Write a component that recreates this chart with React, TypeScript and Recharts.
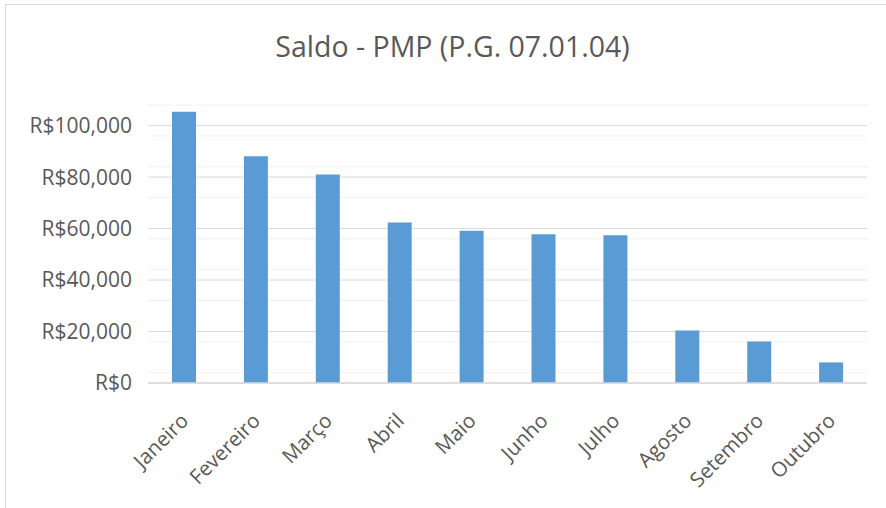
import { BarChart, Bar, XAxis, YAxis, CartesianGrid } from "recharts";

const months = ["Janeiro", "Fevereiro", "Março", "Abril", "Maio", "Junho", "Julho", "Agosto", "Setembro", "Outubro"];
const saldo = [105400, 88100, 81000, 62400, 59150, 57750, 57360, 20400, 16100, 8000];
const yTicks = [0, 20000, 40000, 60000, 80000, 100000];
const minorLines = [4000, 8000, 12000, 16000, 24000, 28000, 32000, 36000, 44000, 48000, 52000, 56000, 64000, 68000, 72000, 76000, 84000, 88000, 92000, 96000, 104000, 108000];

const data = months.map((m, i) => ({ month: m, saldo: saldo[i] }));

const FONT = "'Open Sans', sans-serif";
const TEXT = "#595959";

const fmt = (v: number) => "R$" + v.toLocaleString("en-US");

const MonthTick = (props: any) => {
  const { x, y, payload } = props;
  return (
    <g transform={`translate(${x},${y})`}>
      <text
        x={0}
        y={0}
        dy={26}
        dx={-18}
        textAnchor="end"
        transform="rotate(-45)"
        fill={TEXT}
        fontSize={20.5}
        fontFamily={FONT}
      >
        {payload.value}
      </text>
    </g>
  );
};

export default function App() {
  return (
    <div style={{ position: "absolute", left: 0, top: 0, width: 886, height: 508, background: "#fff", overflow: "hidden" }}>
      <div style={{ position: "absolute", left: 5, top: 4, width: 900, height: 520, border: "1px solid #d9d9d9" }} />
      <div
        style={{
          position: "absolute",
          left: 0,
          width: 905,
          top: 26,
          textAlign: "center",
          fontFamily: FONT,
          fontSize: 28.5,
          color: TEXT,
          lineHeight: "40px",
        }}
      >
        Saldo - PMP (P.G. 07.01.04)
      </div>
      <div style={{ position: "absolute", left: 0, top: 0 }}>
        <BarChart width={886} height={508} data={data} margin={{ top: 105, right: 19, bottom: 0, left: 0 }}>
          <CartesianGrid vertical={false} horizontalValues={minorLines} stroke="#f0f0f0" strokeWidth={1} />
          <CartesianGrid vertical={false} horizontalValues={yTicks} stroke="#d9d9d9" strokeWidth={1} />
          <XAxis
            dataKey="month"
            height={125}
            axisLine={{ stroke: "#d9d9d9", strokeWidth: 1.5 }}
            tickLine={false}
            interval={0}
            tick={<MonthTick />}
          />
          <YAxis
            width={148}
            domain={[0, 108000]}
            ticks={yTicks}
            allowDataOverflow
            axisLine={false}
            tickLine={false}
            tickSize={0}
            tickMargin={16}
            tickFormatter={fmt}
            tick={{ fill: TEXT, fontSize: 21, fontFamily: FONT }}
          />
          <Bar dataKey="saldo" fill="#5b9bd5" barSize={24} isAnimationActive={false} />
        </BarChart>
      </div>
    </div>
  );
}
